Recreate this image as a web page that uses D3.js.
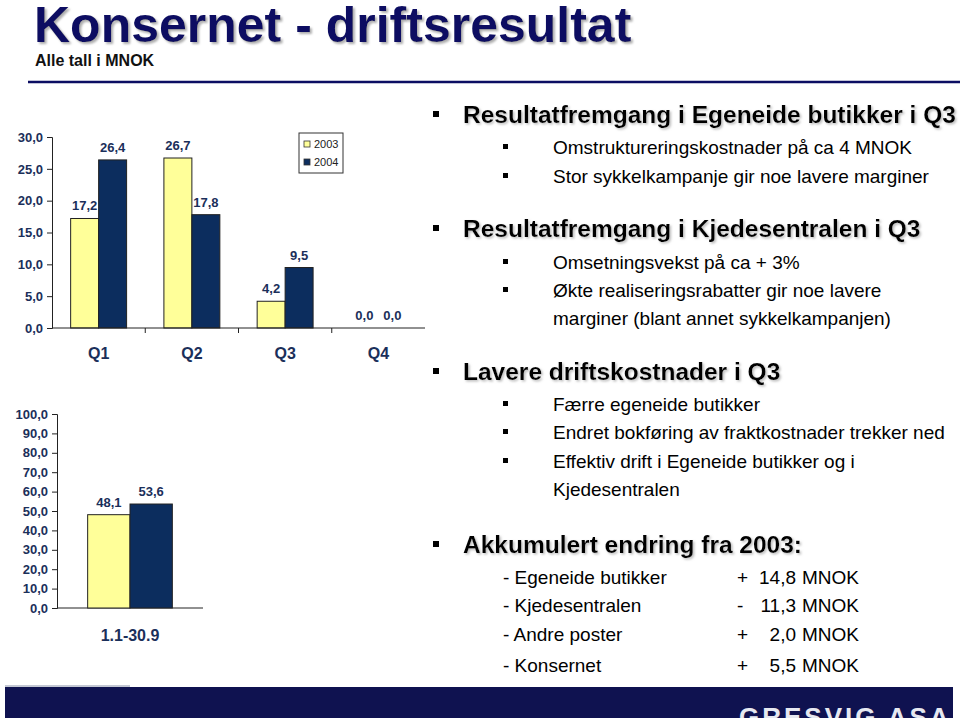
<!DOCTYPE html>
<meta charset="utf-8">
<html>
<script src="https://d3js.org/d3.v7.min.js"></script>
<style>
  body { margin: 0; background: #fff; }
  text { font-family: "Liberation Sans", Arial, sans-serif; }
</style>
<div id="slide"></div>
<script>

// chart values
var quarters = ["Q1", "Q2", "Q3", "Q4"];
var years = ["2003", "2004"];
var q2003 = [17.2, 26.7, 4.2, 0.0];
var q2004 = [26.4, 17.8, 9.5, 0.0];
var ticksTop = [0, 5, 10, 15, 20, 25, 30];

var accLabel = ["1.1-30.9"];
var acc2003 = [48.1];
var acc2004 = [53.6];
var ticksBottom = [0, 10, 20, 30, 40, 50, 60, 70, 80, 90, 100];

var yellow = "#ffff99", navy = "#0c2d5e", labelColor = "#1b2f5a";

var width = 960, height = 723;
var svg = d3.select("#slide").append("svg")
    .attr("width", width)
    .attr("height", height);

var fmt = function(v) { return d3.format(".1f")(v).replace(".", ","); };

// shadow filter for headings
var defs = svg.append("defs");
var f = defs.append("filter").attr("id", "shadow").attr("x", "-5%").attr("y", "-20%").attr("width", "115%").attr("height", "150%");
f.append("feDropShadow").attr("dx", 2).attr("dy", 2).attr("stdDeviation", 1).attr("flood-color", "#999").attr("flood-opacity", 0.8);
var f2 = defs.append("filter").attr("id", "shadow2").attr("x", "-5%").attr("y", "-20%").attr("width", "115%").attr("height", "150%");
f2.append("feDropShadow").attr("dx", 1.5).attr("dy", 1.5).attr("stdDeviation", 0.8).attr("flood-color", "#aaa").attr("flood-opacity", 0.8);

// title
svg.append("text")
    .attr("x", 34).attr("y", 42)
    .attr("font-size", "50px").attr("font-weight", "bold")
    .attr("fill", "#0b0d62")
    .attr("filter", "url(#shadow)")
    .text("Konsernet - driftsresultat");
svg.append("text")
    .attr("x", 35).attr("y", 66)
    .attr("font-size", "16px").attr("font-weight", "bold")
    .attr("fill", "#111")
    .text("Alle tall i MNOK");
svg.append("line")
    .attr("x1", 28).attr("x2", 960).attr("y1", 82).attr("y2", 82)
    .attr("stroke", "#0b0d62").attr("stroke-width", 2.5);

// ---- top chart: quarters ----
var yTop = d3.scaleLinear().domain([0, 30]).range([328, 137]);
var xQ = d3.scaleBand().domain(quarters).range([52, 425]);
var xY = d3.scaleBand().domain(years).range([xQ.bandwidth() * 0.2, xQ.bandwidth() * 0.8]);

var topG = svg.append("g");
topG.append("g")
    .attr("transform", "translate(52,0)")
    .call(d3.axisLeft(yTop).tickValues(ticksTop).tickSize(5).tickPadding(4).tickFormat(fmt))
    .call(function(g) {
      g.selectAll("text").attr("font-size", "13px").attr("font-weight", "bold")
        .attr("fill", labelColor).attr("font-family", "Liberation Sans, Arial, sans-serif");
      g.selectAll("line, path").attr("stroke", "#222");
    });

var topRows = quarters.map(function(q, i) { return { q: q, vals: [q2003[i], q2004[i]] }; });
var grp = topG.selectAll(".qgrp").data(topRows).enter().append("g")
    .attr("transform", function(d) { return "translate(" + xQ(d.q) + ",0)"; });
grp.selectAll("rect").data(function(d) { return d.vals.map(function(v, j) { return { y: years[j], v: v }; }); })
  .enter().append("rect")
    .attr("x", function(d) { return xY(d.y); })
    .attr("width", xY.bandwidth())
    .attr("y", function(d) { return yTop(d.v); })
    .attr("height", function(d) { return yTop(0) - yTop(d.v); })
    .attr("fill", function(d) { return d.y === "2003" ? yellow : navy; })
    .attr("stroke", function(d) { return d.v > 0 ? "#222" : "none"; })
    .attr("stroke-width", 1);
grp.selectAll("text").data(function(d) { return d.vals.map(function(v, j) { return { y: years[j], v: v }; }); })
  .enter().append("text")
    .attr("x", function(d) { return xY(d.y) + xY.bandwidth() / 2; })
    .attr("y", function(d) { return yTop(d.v) - 8; })
    .attr("text-anchor", "middle")
    .attr("font-size", "13px").attr("font-weight", "bold")
    .attr("fill", labelColor)
    .text(function(d) { return fmt(d.v); });

// category axis with ticks at band edges
topG.append("line")
    .attr("x1", 52).attr("x2", 425).attr("y1", yTop(0)).attr("y2", yTop(0))
    .attr("stroke", "#222");
topG.selectAll(".qtick").data(quarters.slice(1)).enter().append("line")
    .attr("x1", function(d) { return xQ(d); }).attr("x2", function(d) { return xQ(d); })
    .attr("y1", yTop(0)).attr("y2", yTop(0) + 5)
    .attr("stroke", "#222");
topG.selectAll(".qlab").data(quarters).enter().append("text")
    .attr("x", function(d) { return xQ(d) + xQ.bandwidth() / 2; })
    .attr("y", 359)
    .attr("text-anchor", "middle")
    .attr("font-size", "16px").attr("font-weight", "bold")
    .attr("fill", labelColor)
    .text(function(d) { return d; });

// legend
var lg = topG.append("g").attr("transform", "translate(299,133)");
lg.append("rect").attr("width", 44).attr("height", 40)
    .attr("fill", "#fff").attr("stroke", "#333").attr("stroke-width", 1);
var li = lg.selectAll(".li").data(years).enter().append("g")
    .attr("transform", function(d, i) { return "translate(5," + (8 + i * 18) + ")"; });
li.append("rect").attr("width", 6).attr("height", 6)
    .attr("fill", function(d) { return d === "2003" ? yellow : navy; })
    .attr("stroke", "#333").attr("stroke-width", 0.8);
li.append("text").attr("x", 10).attr("y", 7)
    .attr("font-size", "11px").attr("fill", "#222")
    .text(function(d) { return d; });

// ---- bottom chart: accumulated ----
var yBot = d3.scaleLinear().domain([0, 100]).range([608, 414]);
var xA = d3.scaleBand().domain(accLabel).range([57, 203]);
var xA2 = d3.scaleBand().domain(years).range([xA.bandwidth() * 0.21, xA.bandwidth() * 0.79]);

var botG = svg.append("g");
botG.append("g")
    .attr("transform", "translate(57,0)")
    .call(d3.axisLeft(yBot).tickValues(ticksBottom).tickSize(5).tickPadding(4).tickFormat(fmt))
    .call(function(g) {
      g.selectAll("text").attr("font-size", "13px").attr("font-weight", "bold")
        .attr("fill", labelColor).attr("font-family", "Liberation Sans, Arial, sans-serif");
      g.selectAll("line, path").attr("stroke", "#222");
    });
botG.append("line")
    .attr("x1", 57).attr("x2", 203).attr("y1", yBot(0)).attr("y2", yBot(0))
    .attr("stroke", "#222");

var accRows = accLabel.map(function(c, i) { return { c: c, vals: [acc2003[i], acc2004[i]] }; });
var ag = botG.selectAll(".agrp").data(accRows).enter().append("g")
    .attr("transform", function(d) { return "translate(" + xA(d.c) + ",0)"; });
ag.selectAll("rect").data(function(d) { return d.vals.map(function(v, j) { return { y: years[j], v: v }; }); })
  .enter().append("rect")
    .attr("x", function(d) { return xA2(d.y); })
    .attr("width", xA2.bandwidth())
    .attr("y", function(d) { return yBot(d.v); })
    .attr("height", function(d) { return yBot(0) - yBot(d.v); })
    .attr("fill", function(d) { return d.y === "2003" ? yellow : navy; })
    .attr("stroke", "#222").attr("stroke-width", 1);
ag.selectAll("text").data(function(d) { return d.vals.map(function(v, j) { return { y: years[j], v: v }; }); })
  .enter().append("text")
    .attr("x", function(d) { return xA2(d.y) + xA2.bandwidth() / 2; })
    .attr("y", function(d) { return yBot(d.v) - 8; })
    .attr("text-anchor", "middle")
    .attr("font-size", "13px").attr("font-weight", "bold")
    .attr("fill", labelColor)
    .text(function(d) { return fmt(d.v); });
botG.selectAll(".alab").data(accLabel).enter().append("text")
    .attr("x", function(d) { return xA(d) + xA.bandwidth() / 2; })
    .attr("y", 641)
    .attr("text-anchor", "middle")
    .attr("font-size", "16px").attr("font-weight", "bold")
    .attr("fill", labelColor)
    .text(function(d) { return d; });

// ---- bullet text ----
var bullets = [
  { lvl: 1, y: 123, t: "Resultatfremgang i Egeneide butikker i Q3" },
  { lvl: 2, y: 154, t: "Omstruktureringskostnader på ca 4 MNOK" },
  { lvl: 2, y: 183, t: "Stor sykkelkampanje gir noe lavere marginer" },
  { lvl: 1, y: 237, t: "Resultatfremgang i Kjedesentralen i Q3" },
  { lvl: 2, y: 269, t: "Omsetningsvekst på ca + 3%" },
  { lvl: 2, y: 297, t: "Økte realiseringsrabatter gir noe lavere" },
  { lvl: 3, y: 325, t: "marginer (blant annet sykkelkampanjen)" },
  { lvl: 1, y: 380, t: "Lavere driftskostnader i Q3" },
  { lvl: 2, y: 411, t: "Færre egeneide butikker" },
  { lvl: 2, y: 439, t: "Endret bokføring av fraktkostnader trekker ned" },
  { lvl: 2, y: 468, t: "Effektiv drift i Egeneide butikker og i" },
  { lvl: 3, y: 496, t: "Kjedesentralen" },
  { lvl: 1, y: 553, t: "Akkumulert endring fra 2003:" }
];
var txt = svg.append("g");
bullets.forEach(function(b) {
  if (b.lvl === 1) {
    txt.append("rect").attr("x", 433).attr("y", b.y - 12).attr("width", 6).attr("height", 6).attr("fill", "#000");
    txt.append("text").attr("x", 463).attr("y", b.y)
      .attr("font-size", "24.5px").attr("font-weight", "bold").attr("fill", "#000")
      .attr("filter", "url(#shadow2)")
      .text(b.t);
  } else {
    if (b.lvl === 2)
      txt.append("rect").attr("x", 503).attr("y", b.y - 10).attr("width", 5).attr("height", 5).attr("fill", "#000");
    txt.append("text").attr("x", 553).attr("y", b.y)
      .attr("font-size", "19px").attr("fill", "#000")
      .text(b.t);
  }
});

// accumulated change table
var accItems = ["- Egeneide butikker", "- Kjedesentralen", "- Andre poster", "- Konsernet"];
var accSign = ["+", "-", "+", "+"];
var accVals = ["14,8", "11,3", "2,0", "5,5"];
var accY = [584, 612, 641, 672];
accItems.forEach(function(s, i) {
  txt.append("text").attr("x", 503).attr("y", accY[i]).attr("font-size", "19px").text(s);
  txt.append("text").attr("x", 737).attr("y", accY[i]).attr("font-size", "19px").text(accSign[i]);
  txt.append("text").attr("x", 796).attr("y", accY[i]).attr("font-size", "19px").attr("text-anchor", "end").text(accVals[i]);
  txt.append("text").attr("x", 802).attr("y", accY[i]).attr("font-size", "19px").text("MNOK");
});

// footer
svg.append("line").attr("x1", 5).attr("x2", 130).attr("y1", 686).attr("y2", 686)
    .attr("stroke", "#8890a8").attr("stroke-width", 1);
svg.append("clipPath").attr("id", "foot").append("rect")
    .attr("x", 5).attr("y", 687).attr("width", 948).attr("height", 31);
var ft = svg.append("g").attr("clip-path", "url(#foot)");
ft.append("rect").attr("x", 5).attr("y", 687).attr("width", 948).attr("height", 31).attr("fill", "#0f1250");
ft.append("text").attr("x", 739).attr("y", 726)
    .attr("font-family", "DejaVu Sans").attr("font-weight", "bold")
    .attr("font-size", "26px").attr("fill", "#e6e8f0")
    .attr("letter-spacing", "3")
    .text("GRESVIG ASA");
</script>
</html>
